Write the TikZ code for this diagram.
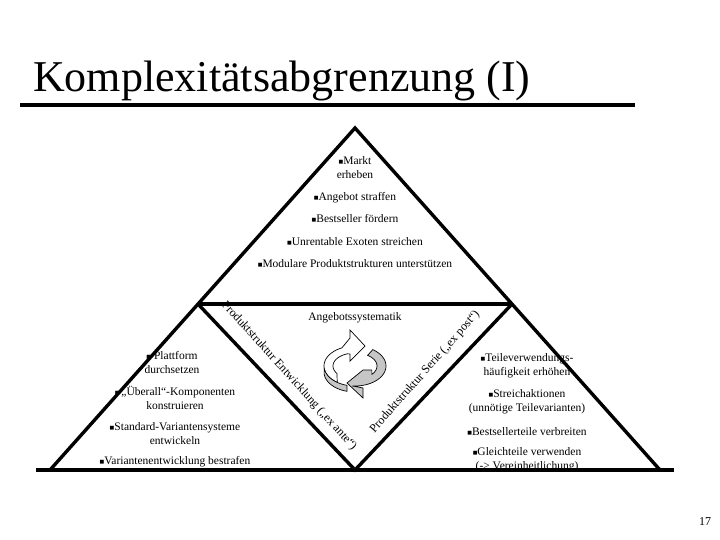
\documentclass[tikz,border=0pt]{standalone}
\usepackage{fontspec}
\setmainfont{Liberation Serif}
\newfontfamily\dejavu{DejaVu Sans}
\newcommand{\bul}{\raisebox{0.25ex}{\dejavu\fontsize{5}{5}\selectfont ■}}
\begin{document}
\begin{tikzpicture}[x=1pt,y=-1pt,
  tx/.style={font=\fontsize{11.5}{14}\selectfont, inner sep=0pt, align=center},
  dg/.style={font=\fontsize{12}{14}\selectfont, inner sep=0pt},
  thick line/.style={line width=3.4pt, line join=miter},
  band/.style={draw=black, line width=0.7pt}]
\useasboundingbox (0,0) rectangle (720,540);
\fill[white] (0,0) rectangle (720,540);
% title
\node[font=\fontsize{44}{48}\selectfont, anchor=base west, inner sep=0pt] (title) at (33,92) {Komplexitätsabgrenzung (I)};
\draw[line width=3.5pt] (20,105) -- (635,105);
% geometry
\coordinate (A) at (355,128);
\coordinate (L) at (198,304);
\coordinate (R) at (512,304);
\coordinate (B) at (355,470);
\coordinate (LL) at (50,470);
\coordinate (RR) at (660,470);
\draw[thick line] (LL) -- (A) -- (RR);
\draw[thick line] (L) -- (R);
\draw[thick line] (L) -- (B) -- (R);
\draw[thick line] (36,470) -- (674,470);
% top texts
\node[tx] (t1) at (355,168) {\bul Markt\\erheben};
\node[tx] (t2) at (355,198) {\bul Angebot straffen};
\node[tx] (t3) at (355,219) {\bul Bestseller fördern};
\node[tx] (t4) at (355,242) {\bul Unrentable Exoten streichen};
\node[tx] (t5) at (355,264) {\bul Modulare Produktstrukturen unterstützen};
\node[tx] (c0) at (355,318) {Angebotssystematik};
% left texts
\node[tx] (l1) at (172,363) {\bul\ Plattform\\durchsetzen};
\node[tx] (l2) at (175,398) {\bul\,„Überall“-Komponenten\\konstruieren};
\node[tx] (l3) at (175,434) {\bul Standard-Variantensysteme\\entwickeln};
\node[tx] (l4) at (175,462) {\bul Variantenentwicklung bestrafen};
% right texts
\node[tx] (r1) at (527,366) {\bul Teileverwendungs-\\häufigkeit erhöhen};
\node[tx] (r2) at (527,402) {\bul Streichaktionen\\(unnötige Teilevarianten)};
\node[tx] (r3) at (527,432) {\bul Bestsellerteile verbreiten};
\node[tx] (r4) at (527,460) {\bul Gleichteile verwenden\\(-> Vereinheitlichung)};
% diagonal labels
\node[dg, rotate=-48] (dl) at (289,376) {Produktstruktur Entwicklung („ex ante“)};
\node[dg, rotate=48.5] (dr) at (425,372) {Produktstruktur Serie („ex post“)};
% cycle arrows
\def\cx{355}\def\cy{366}
\filldraw[band, fill=gray!45]
  plot[domain=-95:55, samples=30] ({\cx+31*cos(\x)},{\cy-20*sin(\x)})
  -- ({\cx+22*cos(55)},{\cy-13*sin(55)})
  -- plot[domain=55:-40, samples=30] ({\cx+22*cos(\x)},{\cy-13*sin(\x)})
  -- ({\cx+22*cos(-40)},{\cy+4}) -- ({\cx+8},{\cy+4})
  -- ({\cx-8},{\cy+17}) -- ({\cx+8},{\cy+32}) -- ({\cx+8},{\cy+22}) -- cycle;
\filldraw[band, fill=white]
  plot[domain=235:115, samples=30] ({\cx+31*cos(\x)},{\cy-20*sin(\x)})
  -- ({\cx-5},{\cy-28}) -- ({\cx-5},{\cy-36}) -- ({\cx+10},{\cy-20})
  -- ({\cx-5},{\cy-5}) -- ({\cx-5},{\cy-12})
  -- plot[domain=110:215, samples=30] ({\cx+22*cos(\x)},{\cy-13*sin(\x)})
  -- cycle;
\fill[gray!45, draw=black, line width=0.7pt]
  plot[domain=185:255, samples=20] ({\cx+31*cos(\x)},{\cy-20*sin(\x)+6})
  -- plot[domain=255:185, samples=20] ({\cx+31*cos(\x)},{\cy-20*sin(\x)}) -- cycle;
% page number
\node[font=\fontsize{12}{12}\selectfont, inner sep=0pt] (pg) at (705,522) {17};
\end{tikzpicture}
\end{document}
